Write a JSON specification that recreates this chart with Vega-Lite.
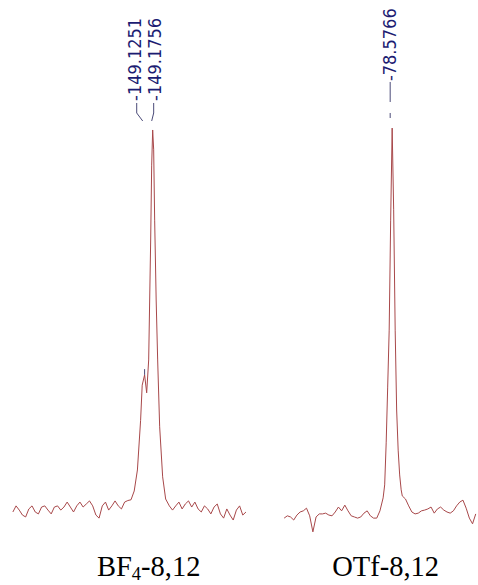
{
  "$schema": "https://vega.github.io/schema/vega-lite/v6.json",
  "width": 478,
  "height": 585,
  "autosize": {"type": "fit", "contains": "padding"},
  "padding": 0,
  "background": "white",
  "config": {"view": {"stroke": null}},
  "resolve": {"scale": {"x": "independent"}},
  "layer": [
    {
      "layer": [
        {
          "data": {"values": [
            {"ppm": -148.30, "intensity": 0}, {"ppm": -148.32, "intensity": 1.6}, {"ppm": -148.34, "intensity": 0.5},
            {"ppm": -148.36, "intensity": -0.8}, {"ppm": -148.38, "intensity": -1.3}, {"ppm": -148.40, "intensity": 0.8},
            {"ppm": -148.42, "intensity": 1.6}, {"ppm": -148.44, "intensity": 0}, {"ppm": -148.46, "intensity": -0.5},
            {"ppm": -148.48, "intensity": 1.3}, {"ppm": -148.50, "intensity": 1.6}, {"ppm": -148.52, "intensity": 0.5},
            {"ppm": -148.54, "intensity": -0.5}, {"ppm": -148.56, "intensity": 1.3}, {"ppm": -148.58, "intensity": 1.6},
            {"ppm": -148.60, "intensity": 0.5}, {"ppm": -148.62, "intensity": 1.3}, {"ppm": -148.64, "intensity": 2.6},
            {"ppm": -148.66, "intensity": 1.3}, {"ppm": -148.68, "intensity": 0}, {"ppm": -148.70, "intensity": 1.6},
            {"ppm": -148.72, "intensity": 2.6}, {"ppm": -148.74, "intensity": 1.3}, {"ppm": -148.76, "intensity": 2.1},
            {"ppm": -148.78, "intensity": 2.9}, {"ppm": -148.80, "intensity": 1.6}, {"ppm": -148.82, "intensity": -0.8},
            {"ppm": -148.84, "intensity": -1.6}, {"ppm": -148.86, "intensity": 1.6}, {"ppm": -148.88, "intensity": 2.6},
            {"ppm": -148.90, "intensity": 0.5}, {"ppm": -148.92, "intensity": 1.6}, {"ppm": -148.94, "intensity": 2.9},
            {"ppm": -148.96, "intensity": 1.6}, {"ppm": -148.98, "intensity": 0.8}, {"ppm": -149.00, "intensity": 2.6},
            {"ppm": -149.02, "intensity": 3.0}, {"ppm": -149.04, "intensity": 3.2}, {"ppm": -149.06, "intensity": 5.5},
            {"ppm": -149.08, "intensity": 11}, {"ppm": -149.10, "intensity": 24}, {"ppm": -149.110, "intensity": 33.2},
            {"ppm": -149.1251, "intensity": 35.9}, {"ppm": -149.1381, "intensity": 31.2}, {"ppm": -149.1506, "intensity": 39.8},
            {"ppm": -149.1631, "intensity": 71.2}, {"ppm": -149.1694, "intensity": 90.8}, {"ppm": -149.1756, "intensity": 100},
            {"ppm": -149.1819, "intensity": 94.8}, {"ppm": -149.1881, "intensity": 76.4}, {"ppm": -149.1975, "intensity": 55.5},
            {"ppm": -149.2069, "intensity": 39.8}, {"ppm": -149.2194, "intensity": 22.3}, {"ppm": -149.2381, "intensity": 9.2},
            {"ppm": -149.2569, "intensity": 3.4}, {"ppm": -149.28, "intensity": 1.6}, {"ppm": -149.30, "intensity": 0.5},
            {"ppm": -149.32, "intensity": 1.6}, {"ppm": -149.34, "intensity": 2.6}, {"ppm": -149.36, "intensity": 0.8},
            {"ppm": -149.38, "intensity": 2.1}, {"ppm": -149.40, "intensity": 2.9}, {"ppm": -149.42, "intensity": 1.3},
            {"ppm": -149.44, "intensity": 2.6}, {"ppm": -149.46, "intensity": 0.8}, {"ppm": -149.48, "intensity": 0},
            {"ppm": -149.50, "intensity": 1.6}, {"ppm": -149.52, "intensity": 0.8}, {"ppm": -149.54, "intensity": -0.5},
            {"ppm": -149.56, "intensity": 1.3}, {"ppm": -149.58, "intensity": 2.1}, {"ppm": -149.60, "intensity": -0.5},
            {"ppm": -149.62, "intensity": -1.6}, {"ppm": -149.64, "intensity": 0.8}, {"ppm": -149.66, "intensity": -0.8},
            {"ppm": -149.68, "intensity": -2.1}, {"ppm": -149.70, "intensity": 0.5}, {"ppm": -149.72, "intensity": 1.6},
            {"ppm": -149.74, "intensity": -0.8}, {"ppm": -149.76, "intensity": 0}
          ]},
          "mark": {"type": "line", "color": "#a8484a", "strokeWidth": 1},
          "encoding": {
            "x": {"field": "ppm", "type": "quantitative", "scale": {"domain": [-148.2194, -151.2069], "nice": false, "zero": false}, "axis": null},
            "y": {"field": "intensity", "type": "quantitative", "scale": {"domain": [-19.11, 134.03], "nice": false, "zero": false}, "axis": null}
          }
        },
        {
          "data": {"values": [
            {"ppm": -149.0756, "intensity": 107.07, "id": "a", "o": 1},
            {"ppm": -149.0756, "intensity": 104.45, "id": "a", "o": 2},
            {"ppm": -149.1131, "intensity": 102.36, "id": "a", "o": 3},
            {"ppm": -149.1819, "intensity": 107.07, "id": "b", "o": 1},
            {"ppm": -149.1819, "intensity": 104.45, "id": "b", "o": 2},
            {"ppm": -149.1694, "intensity": 102.36, "id": "b", "o": 3},
            {"ppm": -149.1251, "intensity": 37.4, "id": "c", "o": 1},
            {"ppm": -149.1251, "intensity": 35.9, "id": "c", "o": 2}
          ]},
          "mark": {"type": "line", "color": "#4a4a78", "strokeWidth": 1},
          "encoding": {
            "x": {"field": "ppm", "type": "quantitative", "scale": {"domain": [-148.2194, -151.2069], "nice": false, "zero": false}, "axis": null},
            "y": {"field": "intensity", "type": "quantitative", "scale": {"domain": [-19.11, 134.03], "nice": false, "zero": false}, "axis": null},
            "detail": {"field": "id"},
            "order": {"field": "o", "type": "quantitative"}
          }
        },
        {
          "data": {"values": [
            {"ppm": -149.0694, "intensity": 107.6, "label": "-149.1251"},
            {"ppm": -149.1944, "intensity": 107.6, "label": "-149.1756"}
          ]},
          "mark": {"type": "text", "angle": 270, "align": "left", "baseline": "middle", "font": "DejaVu Sans Condensed, Noto Sans", "fontSize": 18, "color": "#1c1c72"},
          "encoding": {
            "x": {"field": "ppm", "type": "quantitative", "scale": {"domain": [-148.2194, -151.2069], "nice": false, "zero": false}, "axis": null},
            "y": {"field": "intensity", "type": "quantitative", "scale": {"domain": [-19.11, 134.03], "nice": false, "zero": false}, "axis": null},
            "text": {"field": "label"}
          }
        },
        {
          "data": {"values": [
            {"ppm": -148.8269, "intensity": -16.75, "label": "BF"}
          ]},
          "mark": {"type": "text", "align": "left", "baseline": "alphabetic", "font": "Liberation Serif", "fontSize": 28.5, "color": "#000000"},
          "encoding": {
            "x": {"field": "ppm", "type": "quantitative", "scale": {"domain": [-148.2194, -151.2069], "nice": false, "zero": false}, "axis": null},
            "y": {"field": "intensity", "type": "quantitative", "scale": {"domain": [-19.11, 134.03], "nice": false, "zero": false}, "axis": null},
            "text": {"field": "label"}
          }
        },
        {
          "data": {"values": [
            {"ppm": -149.0450, "intensity": -17.8, "label": "4"}
          ]},
          "mark": {"type": "text", "align": "left", "baseline": "alphabetic", "font": "Liberation Serif", "fontSize": 18.5, "color": "#000000"},
          "encoding": {
            "x": {"field": "ppm", "type": "quantitative", "scale": {"domain": [-148.2194, -151.2069], "nice": false, "zero": false}, "axis": null},
            "y": {"field": "intensity", "type": "quantitative", "scale": {"domain": [-19.11, 134.03], "nice": false, "zero": false}, "axis": null},
            "text": {"field": "label"}
          }
        },
        {
          "data": {"values": [
            {"ppm": -149.1031, "intensity": -16.75, "label": "-8,12"}
          ]},
          "mark": {"type": "text", "align": "left", "baseline": "alphabetic", "font": "Liberation Serif", "fontSize": 28.5, "color": "#000000"},
          "encoding": {
            "x": {"field": "ppm", "type": "quantitative", "scale": {"domain": [-148.2194, -151.2069], "nice": false, "zero": false}, "axis": null},
            "y": {"field": "intensity", "type": "quantitative", "scale": {"domain": [-19.11, 134.03], "nice": false, "zero": false}, "axis": null},
            "text": {"field": "label"}
          }
        }
      ]
    },
    {
      "layer": [
        {
          "data": {"values": [
            {"ppm": -77.90, "intensity": -1.6}, {"ppm": -77.92, "intensity": -1.0}, {"ppm": -77.94, "intensity": -1.3},
            {"ppm": -77.96, "intensity": -2.1}, {"ppm": -77.98, "intensity": -0.8}, {"ppm": -78.00, "intensity": 0},
            {"ppm": -78.02, "intensity": 0.3}, {"ppm": -78.04, "intensity": 1.0}, {"ppm": -78.06, "intensity": -1.0},
            {"ppm": -78.08, "intensity": -5.2}, {"ppm": -78.10, "intensity": -1.3}, {"ppm": -78.12, "intensity": -0.5},
            {"ppm": -78.14, "intensity": -0.5}, {"ppm": -78.16, "intensity": -0.3}, {"ppm": -78.18, "intensity": -0.8},
            {"ppm": -78.20, "intensity": -1.0}, {"ppm": -78.22, "intensity": 0}, {"ppm": -78.24, "intensity": 1.3},
            {"ppm": -78.26, "intensity": 0.3}, {"ppm": -78.28, "intensity": 1.8}, {"ppm": -78.30, "intensity": 0.3},
            {"ppm": -78.32, "intensity": -1.0}, {"ppm": -78.34, "intensity": -1.3}, {"ppm": -78.36, "intensity": -1.6},
            {"ppm": -78.38, "intensity": -1.3}, {"ppm": -78.40, "intensity": -0.3}, {"ppm": -78.42, "intensity": 0.3},
            {"ppm": -78.44, "intensity": -1.0}, {"ppm": -78.46, "intensity": -1.6}, {"ppm": -78.48, "intensity": -1.6},
            {"ppm": -78.50, "intensity": 0.3}, {"ppm": -78.52, "intensity": 3.7}, {"ppm": -78.5297, "intensity": 7.1},
            {"ppm": -78.5391, "intensity": 18.1}, {"ppm": -78.5485, "intensity": 32.7}, {"ppm": -78.5579, "intensity": 47.6},
            {"ppm": -78.5672, "intensity": 76.4}, {"ppm": -78.5766, "intensity": 100.5}, {"ppm": -78.5860, "intensity": 79.1},
            {"ppm": -78.5954, "intensity": 47.6}, {"ppm": -78.6047, "intensity": 26.7}, {"ppm": -78.6141, "intensity": 16.2},
            {"ppm": -78.6235, "intensity": 9.7}, {"ppm": -78.6329, "intensity": 5.8}, {"ppm": -78.64, "intensity": 4.2},
            {"ppm": -78.66, "intensity": 3.4}, {"ppm": -78.68, "intensity": 1.6}, {"ppm": -78.70, "intensity": 0},
            {"ppm": -78.72, "intensity": -0.5}, {"ppm": -78.74, "intensity": -0.3}, {"ppm": -78.76, "intensity": 0.3},
            {"ppm": -78.78, "intensity": 0.5}, {"ppm": -78.80, "intensity": 0.8}, {"ppm": -78.82, "intensity": 1.3},
            {"ppm": -78.84, "intensity": -0.3}, {"ppm": -78.86, "intensity": 0.8}, {"ppm": -78.88, "intensity": 1.3},
            {"ppm": -78.90, "intensity": 0.5}, {"ppm": -78.92, "intensity": 0}, {"ppm": -78.94, "intensity": -0.3},
            {"ppm": -78.96, "intensity": 0.3}, {"ppm": -78.98, "intensity": 1.6}, {"ppm": -79.00, "intensity": 2.6},
            {"ppm": -79.02, "intensity": 3.1}, {"ppm": -79.04, "intensity": 1.0}, {"ppm": -79.06, "intensity": -1.6},
            {"ppm": -79.08, "intensity": -3.1}, {"ppm": -79.10, "intensity": -0.5}
          ]},
          "mark": {"type": "line", "color": "#a8484a", "strokeWidth": 1},
          "encoding": {
            "x": {"field": "ppm", "type": "quantitative", "scale": {"domain": [-76.1204, -79.1079], "nice": false, "zero": false}, "axis": null},
            "y": {"field": "intensity", "type": "quantitative", "scale": {"domain": [-19.11, 134.03], "nice": false, "zero": false}, "axis": null}
          }
        },
        {
          "data": {"values": [
            {"ppm": -78.5641, "intensity": 112.57, "id": "a", "o": 1},
            {"ppm": -78.5641, "intensity": 107.33, "id": "a", "o": 2},
            {"ppm": -78.5641, "intensity": 104.45, "id": "b", "o": 1},
            {"ppm": -78.5641, "intensity": 103.14, "id": "b", "o": 2}
          ]},
          "mark": {"type": "line", "color": "#4a4a78", "strokeWidth": 1},
          "encoding": {
            "x": {"field": "ppm", "type": "quantitative", "scale": {"domain": [-76.1204, -79.1079], "nice": false, "zero": false}, "axis": null},
            "y": {"field": "intensity", "type": "quantitative", "scale": {"domain": [-19.11, 134.03], "nice": false, "zero": false}, "axis": null},
            "detail": {"field": "id"},
            "order": {"field": "o", "type": "quantitative"}
          }
        },
        {
          "data": {"values": [
            {"ppm": -78.5704, "intensity": 112.8, "label": "-78.5766"}
          ]},
          "mark": {"type": "text", "angle": 270, "align": "left", "baseline": "middle", "font": "DejaVu Sans Condensed, Noto Sans", "fontSize": 18, "color": "#1c1c72"},
          "encoding": {
            "x": {"field": "ppm", "type": "quantitative", "scale": {"domain": [-76.1204, -79.1079], "nice": false, "zero": false}, "axis": null},
            "y": {"field": "intensity", "type": "quantitative", "scale": {"domain": [-19.11, 134.03], "nice": false, "zero": false}, "axis": null},
            "text": {"field": "label"}
          }
        },
        {
          "data": {"values": [
            {"ppm": -78.536, "intensity": -16.75, "label": "OTf-8,12"}
          ]},
          "mark": {"type": "text", "align": "center", "baseline": "alphabetic", "font": "Liberation Serif", "fontSize": 28.5, "color": "#000000"},
          "encoding": {
            "x": {"field": "ppm", "type": "quantitative", "scale": {"domain": [-76.1204, -79.1079], "nice": false, "zero": false}, "axis": null},
            "y": {"field": "intensity", "type": "quantitative", "scale": {"domain": [-19.11, 134.03], "nice": false, "zero": false}, "axis": null},
            "text": {"field": "label"}
          }
        }
      ]
    }
  ]
}
